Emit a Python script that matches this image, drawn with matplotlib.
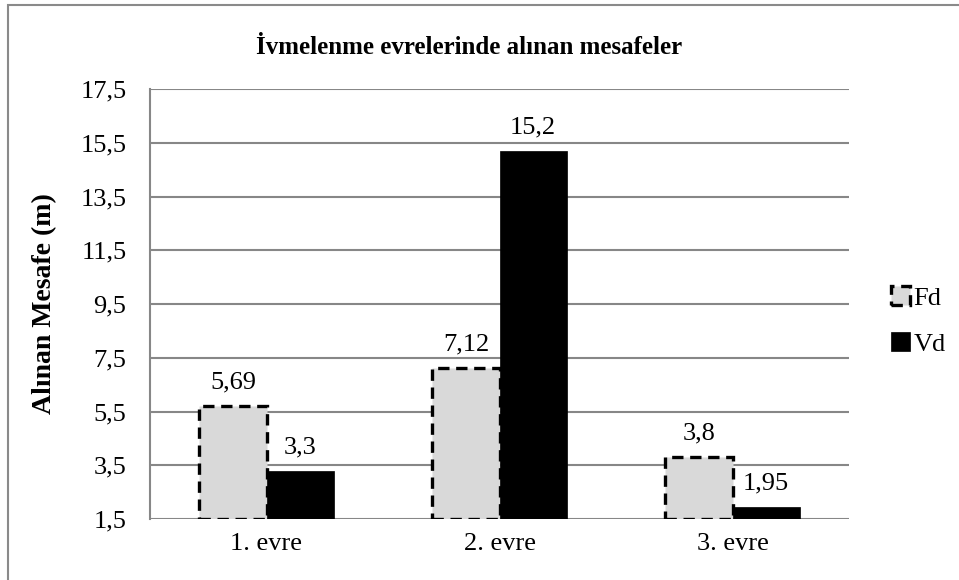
import matplotlib
matplotlib.use("Agg")
import matplotlib.pyplot as plt
from matplotlib.patches import Rectangle
import numpy as np

categories = ["1. evre", "2. evre", "3. evre"]
fd_values = [5.69, 7.12, 3.8]
vd_values = [3.3, 15.2, 1.95]
fd_labels = ["5,69", "7,12", "3,8"]
vd_labels = ["3,3", "15,2", "1,95"]
yticks = [1.5, 3.5, 5.5, 7.5, 9.5, 11.5, 13.5, 15.5, 17.5]
ytick_labels = ["1,5", "3,5", "5,5", "7,5", "9,5", "11,5", "13,5", "15,5", "17,5"]
series_names = ["Fd", "Vd"]
title = "İvmelenme evrelerinde alınan mesafeler"
ylabel = "Alınan Mesafe (m)"

plt.rcParams['font.family'] = ['Liberation Serif', 'DejaVu Serif']

W, H = 959, 580
fig = plt.figure(figsize=(W / 100, H / 100), dpi=100)
ax = fig.add_axes([150 / W, 1 - 519 / H, (849 - 150) / W, (519 - 89) / H])

base = yticks[0]
x = np.arange(len(categories))
bw = 0.288
grid_c = "#878787"

fd_h = [v - base for v in fd_values]
vd_h = [v - base for v in vd_values]
b1 = ax.bar(x - bw / 2, fd_h, bw, bottom=base, color="#d9d9d9", edgecolor="black",
            linewidth=2.4, linestyle=(0, (3.4, 2.0)), label=series_names[0], zorder=3)
b2 = ax.bar(x + bw / 2, vd_h, bw, bottom=base, color="black", edgecolor="black",
            linewidth=0.5, label=series_names[1], zorder=3)

for xi, v, lab in zip(x - bw / 2, fd_values, fd_labels):
    ax.annotate(lab, (xi, v), xytext=(0, 9), textcoords="offset points",
                ha="center", va="bottom", fontsize=19)
for xi, v, lab in zip(x + bw / 2, vd_values, vd_labels):
    ax.annotate(lab, (xi, v), xytext=(0, 9), textcoords="offset points",
                ha="center", va="bottom", fontsize=19)

ax.set_xlim(-0.5, len(categories) - 0.5)
ax.set_ylim(yticks[0], yticks[-1])
ax.set_yticks(yticks)
ax.set_yticklabels(ytick_labels, fontsize=19)
ax.set_xticks(x)
ax.set_xticklabels(categories, fontsize=19)
ax.tick_params(axis="y", length=0, pad=17)
ax.tick_params(axis="x", length=0, pad=10)
ax.yaxis.grid(True, color=grid_c, linewidth=1.5, zorder=0)
ax.set_axisbelow(True)
for s in ["top", "right", "bottom"]:
    ax.spines[s].set_visible(False)
ax.spines["left"].set_color(grid_c)
ax.spines["left"].set_linewidth(1.5)

ax.set_ylabel(ylabel, fontsize=20, fontweight="bold", labelpad=17)
fig.text(0.5 * (258 + 680) / W, 1 - 47 / H, title, ha="center", va="center",
         fontsize=18, fontweight="bold")

leg = fig.legend(handles=[b1, b2], labels=series_names, loc="center left",
                 bbox_to_anchor=(878 / W, 1 - 321 / H), frameon=False,
                 fontsize=19, handlelength=0.7, handleheight=0.7,
                 handletextpad=0.15, labelspacing=0.85, borderpad=0)

fig.patches.append(Rectangle((8 / W, -0.1), 1.2, 1 - 5 / H + 0.1, transform=fig.transFigure,
                             fill=False, edgecolor="#8a8a8a", linewidth=1.5))

fig.savefig("out.png", dpi=100)
